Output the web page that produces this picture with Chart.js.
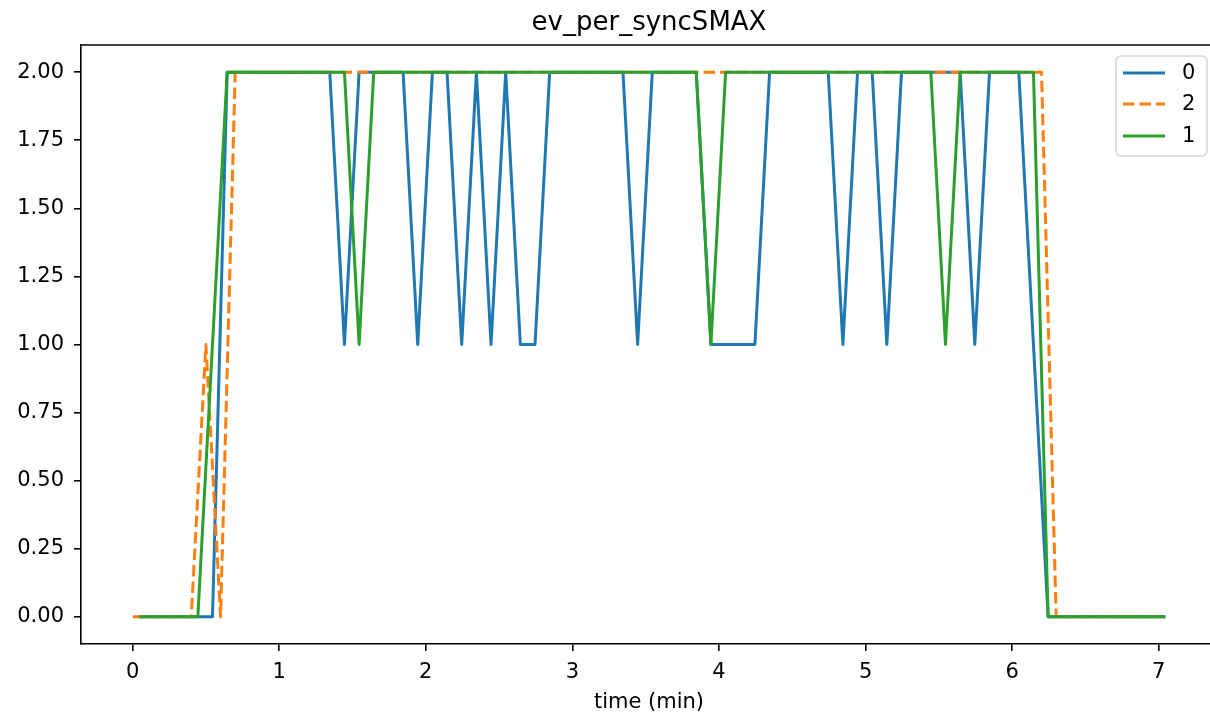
<!DOCTYPE html>
<html>
<head>
<meta charset="utf-8">
<script src="https://cdn.jsdelivr.net/npm/chart.js@4"></script>
<style>
  html, body { margin: 0; padding: 0; background: #fff; }
  #wrap { width: 1210px; height: 717px; overflow: hidden; position: relative; }
  #chart { position: absolute; left: 0; top: 0; }
</style>
</head>
<body>
<div id="wrap"><canvas id="chart" width="1298" height="717"></canvas></div>
<script>
// series "0" (blue)
const timeS0 = [0.045, 0.545, 0.645, 1.345, 1.445, 1.545, 1.845, 1.945, 2.045, 2.145, 2.245, 2.345,
  2.445, 2.545, 2.645, 2.745, 2.845, 3.345, 3.445, 3.545, 3.845, 3.945, 4.245, 4.345,
  4.745, 4.845, 4.945, 5.045, 5.145, 5.245, 5.645, 5.745, 5.845, 6.045, 6.245, 7.045];
const valS0 = [0, 0, 2, 2, 1, 2, 2, 1, 2, 2, 1, 2,
  1, 2, 1, 1, 2, 2, 1, 2, 2, 1, 1, 2,
  2, 1, 2, 2, 1, 2, 2, 1, 2, 2, 0, 0];

// series "2" (orange, dashed)
const timeS2 = [0, 0.4, 0.5, 0.6, 0.7, 6.2, 6.3, 7.0];
const valS2 = [0, 0, 1, 0, 2, 2, 0, 0];

// series "1" (green)
const timeS1 = [0.045, 0.445, 0.645, 1.445, 1.545, 1.645, 3.845, 3.945, 4.045,
  5.445, 5.545, 5.645, 6.145, 6.245, 7.045];
const valS1 = [0, 0, 2, 2, 1, 2, 2, 1, 2, 2, 1, 2, 2, 0, 0];

const xTicks = [0, 1, 2, 3, 4, 5, 6, 7];
const yTicks = [0, 0.25, 0.5, 0.75, 1, 1.25, 1.5, 1.75, 2];
const titleText = "ev_per_syncSMAX";

const FONT = "'DejaVu Sans', sans-serif";
const DASH = [11.5, 5];

function pts(t, v) {
  return t.map((x, i) => ({ x: x, y: v[i] }));
}

// top spine + title centred over the whole axes box (right part falls off the picture)
const framePlugin = {
  id: "frame",
  afterDraw(chart) {
    const { ctx, chartArea: a } = chart;
    ctx.save();
    ctx.strokeStyle = "#000";
    ctx.lineWidth = 1.6;
    ctx.beginPath();
    ctx.moveTo(a.left, a.top);
    ctx.lineTo(a.right, a.top);
    ctx.stroke();
    ctx.fillStyle = "#000";
    ctx.font = "26px " + FONT;
    ctx.textAlign = "center";
    ctx.textBaseline = "alphabetic";
    ctx.fillText(titleText, (a.left + a.right) / 2, 30);
    ctx.restore();
  }
};

// legend box in the upper right corner of the axes
const legendPlugin = {
  id: "mplLegend",
  afterDraw(chart) {
    const { ctx, chartArea: a } = chart;
    const w = 91, h = 100;
    const x0 = a.right - 10 - w, y0 = a.top + 11;
    ctx.save();
    ctx.beginPath();
    ctx.roundRect(x0, y0, w, h, 5);
    ctx.fillStyle = "rgba(255,255,255,0.8)";
    ctx.fill();
    ctx.strokeStyle = "#d6d6d6";
    ctx.lineWidth = 1.6;
    ctx.stroke();
    const rows = [17, 48, 80];
    chart.data.datasets.forEach((ds, i) => {
      const y = y0 + rows[i];
      ctx.beginPath();
      ctx.setLineDash(ds.borderDash || []);
      ctx.strokeStyle = ds.borderColor;
      ctx.lineWidth = ds.borderWidth;
      ctx.moveTo(x0 + 7, y);
      ctx.lineTo(x0 + 49, y);
      ctx.stroke();
      ctx.setLineDash([]);
      ctx.fillStyle = "#000";
      ctx.font = "21px " + FONT;
      ctx.textBaseline = "middle";
      ctx.textAlign = "left";
      ctx.fillText(ds.label, x0 + 66, y + 1);
    });
    ctx.restore();
  }
};

new Chart(document.getElementById("chart"), {
  type: "line",
  data: {
    datasets: [
      { label: "0", data: pts(timeS0, valS0), borderColor: "#1f77b4", borderWidth: 3, order: 2 },
      { label: "2", data: pts(timeS2, valS2), borderColor: "#ff7f0e", borderWidth: 3, borderDash: DASH, order: 1 },
      { label: "1", data: pts(timeS1, valS1), borderColor: "#2ca02c", borderWidth: 3, order: 0 }
    ]
  },
  options: {
    responsive: false,
    animation: false,
    layout: { padding: { left: 0, right: 81, top: 45, bottom: 0 } },
    elements: {
      point: { radius: 0, hoverRadius: 0 },
      line: { tension: 0, fill: false, borderJoinStyle: "round", borderCapStyle: "butt" }
    },
    plugins: {
      legend: { display: false },
      tooltip: { enabled: false },
      title: { display: false }
    },
    scales: {
      x: {
        type: "linear",
        min: -0.352,
        max: 7.397,
        afterFit(scale) { scale.height = 73; },
        afterBuildTicks(scale) { scale.ticks = xTicks.map(v => ({ value: v })); },
        ticks: {
          color: "#000",
          font: { family: FONT, size: 21 },
          padding: 9,
          maxRotation: 0,
          autoSkip: false,
          callback: v => String(v)
        },
        grid: { drawOnChartArea: false, drawTicks: true, tickLength: 7, color: "#000", lineWidth: 1.6 },
        border: { display: true, color: "#000", width: 1.6 },
        title: {
          display: true,
          text: "time (min)",
          color: "#000",
          font: { family: FONT, size: 21 },
          padding: { top: 4, bottom: 2 }
        }
      },
      y: {
        type: "linear",
        min: -0.1,
        max: 2.1,
        afterFit(scale) { scale.width = 81; },
        afterBuildTicks(scale) { scale.ticks = yTicks.map(v => ({ value: v })); },
        ticks: {
          color: "#000",
          font: { family: FONT, size: 21 },
          padding: 10,
          autoSkip: false,
          callback: v => Number(v).toFixed(2)
        },
        grid: { drawOnChartArea: false, drawTicks: true, tickLength: 7, color: "#000", lineWidth: 1.6 },
        border: { display: true, color: "#000", width: 1.6 }
      }
    }
  },
  plugins: [framePlugin, legendPlugin]
});
</script>
</body>
</html>
